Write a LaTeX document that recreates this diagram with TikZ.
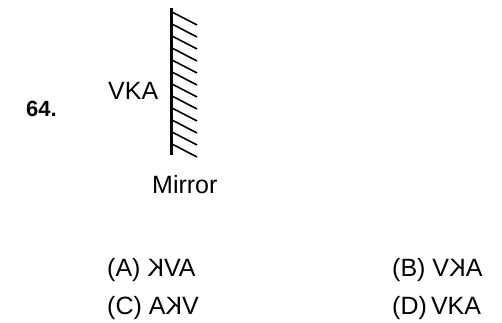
\documentclass[tikz,border=0pt]{standalone}
\usepackage{fontspec}
\setmainfont{Liberation Sans}
\usepackage{graphicx}
\newcommand{\revK}{\reflectbox{K}}
\begin{document}
\begin{tikzpicture}[x=1pt,y=-1pt,
  txt/.style = {inner sep=0pt, anchor=base west, font=\fontsize{25}{30}\selectfont},
  hatch/.style = {line width=1.6pt}]
  \useasboundingbox (0,0) rectangle (502,323);
  \node[txt, font=\fontsize{22}{26}\selectfont\bfseries] (num) at (26,117) {64.};
  \node[txt] (obj) at (108,100) {VKA};
  % mirror with hatching
  \coordinate (mtop) at (171,8);
  \coordinate (mbot) at (171,155);
  \draw[line width=3pt] (mtop) -- (mbot);
  \foreach \y in {12,24,...,144}
    \draw[hatch] (172,\y) -- ++(25,13);
  \node[txt] (mlabel) at (152,193) {Mirror};
  % options
  \node[txt] (optA) at (107,276) {(A) \revK VA};
  \node[txt] (optB) at (392,276) {(B) V\revK A};
  \node[txt] (optC) at (107,314) {(C) A\revK V};
  \node[txt] (optD) at (392,314) {(D)\,VKA};
\end{tikzpicture}
\end{document}
